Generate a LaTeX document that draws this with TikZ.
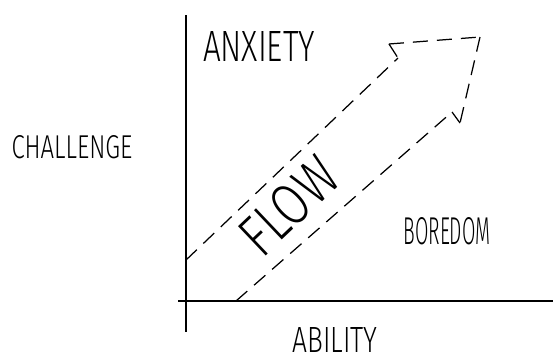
\documentclass[tikz,border=0pt]{standalone}
\usepackage{fontspec}
\usepackage{graphicx}
\newfontfamily\handfont{Fira Sans Light}
\newcommand{\hw}[3]{\resizebox{#1pt}{#2pt}{\handfont\fontsize{30}{30}\selectfont #3}}
\tikzset{
  lbl/.style={inner sep=0pt},
  axis/.style={line width=1.3pt, black},
  flowarrow/.style={line width=1.25pt, dash pattern=on 15pt off 9pt, line cap=butt}
}
\begin{document}
\begin{tikzpicture}[x=1pt,y=-1pt]
\useasboundingbox (0,0) rectangle (553,354);
% axes
\coordinate (ytop) at (186,15);
\coordinate (ybot) at (186,332);
\coordinate (xl) at (178,301);
\coordinate (xr) at (553,301);
\draw[axis] (ytop) -- (ybot);
\draw[axis] (xl) -- (xr);
% flow arrow
\coordinate (a1) at (186,260);
\coordinate (a2) at (398,58);
\coordinate (a3) at (389,44);
\coordinate (a4) at (480,37);
\coordinate (a5) at (460,123);
\coordinate (a6) at (452,112);
\coordinate (a7) at (236,301);
\draw[flowarrow] (a1) -- (a2);
\draw[flowarrow] (a3) -- (a2);
\draw[flowarrow] (a3) -- (a4);
\draw[flowarrow] (a4) -- (a5);
\draw[flowarrow] (a5) -- (a6);
\draw[flowarrow] (a7) -- (a6);
% labels
\node[lbl] (anx) at (259,46) {\hw{112}{30}{ANXIETY}};
\node[lbl] (chal) at (72,147) {\hw{121}{23}{CHALLENGE}};
\node[lbl] (bor) at (447,231) {\hw{87}{27}{BOREDOM}};
\node[lbl] (abil) at (335,340) {\hw{85}{25}{ABILITY}};
\node[lbl, rotate=43.5] (flow) at (289,206) {\hw{112}{41}{FLOW}};
\end{tikzpicture}
\end{document}
